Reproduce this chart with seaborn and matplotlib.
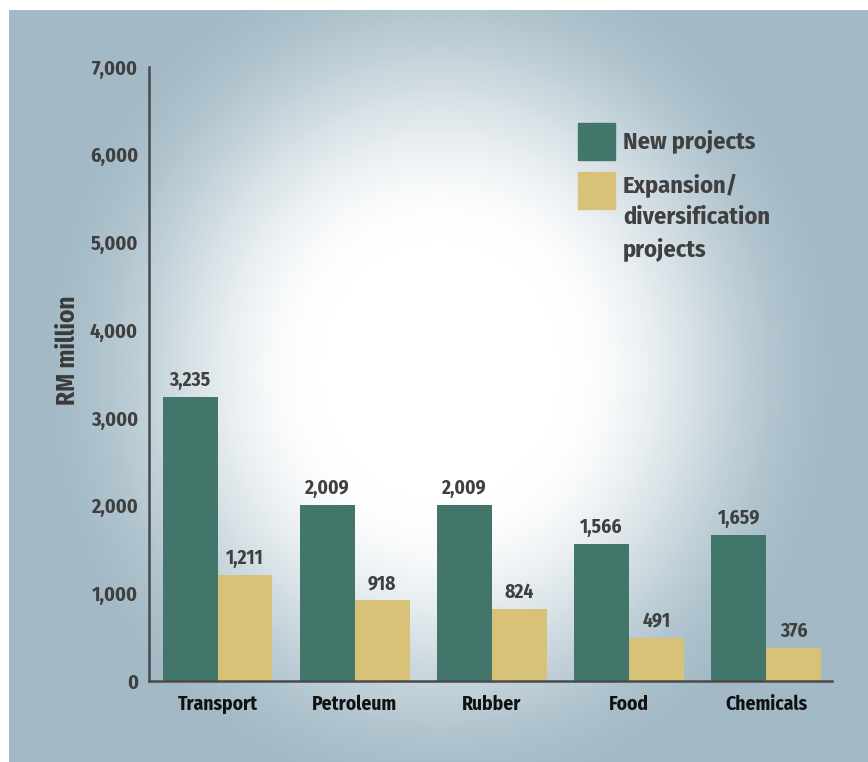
import numpy as np
import pandas as pd
import matplotlib.pyplot as plt
from matplotlib.patches import Rectangle
import seaborn as sns

sns.set_style('white')
plt.rcParams['font.family'] = ['Fira Sans Condensed', 'Lato', 'DejaVu Sans']
plt.rcParams['font.weight'] = 'bold'

# ---------------------------------------------------------
# Data
# ---------------------------------------------------------
SECTORS = ['Transport', 'Petroleum', 'Rubber', 'Food', 'Chemicals']
NEW_PROJECTS = [3235, 2009, 2009, 1566, 1659]
EXPANSION = [1211, 918, 824, 491, 376]
SERIES = ['New projects', 'Expansion/\ndiversification\nprojects']
Y_TICKS = [0, 1000, 2000, 3000, 4000, 5000, 6000, 7000]

GREEN = '#43766a'
YELLOW = '#d8c278'
EDGE = np.array([0xa3, 0xba, 0xc6]) / 255.0

df = pd.DataFrame({
    'sector': SECTORS * 2,
    'value': NEW_PROJECTS + EXPANSION,
    'type': [SERIES[0]] * len(SECTORS) + [SERIES[1]] * len(SECTORS),
})

W, H = 868, 762
fig = plt.figure(figsize=(W / 100, H / 100), dpi=100, facecolor='white')

# radial background panel
bg = fig.add_axes([9 / W, 0, (W - 9) / W, (H - 10) / H], zorder=0)
yy, xx = np.mgrid[10:H, 9:W]
t = np.sqrt(((xx - 440) / 480.0) ** 2 + ((yy - 370) / 520.0) ** 2)
s = np.clip((t - 0.25) / 0.6, 0, 1)
f = 1 - (3 * s ** 2 - 2 * s ** 3)
img = EDGE[None, None, :] + (1 - EDGE[None, None, :]) * f[:, :, None]
bg.imshow(img, aspect='auto', interpolation='bilinear')
bg.axis('off')

ax = fig.add_axes([149 / W, (H - 681) / H, (832 - 149) / W, (681 - 67) / H], zorder=1)
ax.set_facecolor('none')

sns.barplot(data=df, x='sector', y='value', hue='type', palette=[GREEN, YELLOW],
            width=0.8, saturation=1, linewidth=0, legend=False, ax=ax)

for cont in ax.containers:
    ax.bar_label(cont, fmt='{:,.0f}', padding=5, fontsize=14, color='#404040', fontweight='bold')

ax.set_ylim(0, 7000)
ax.set_xlim(-0.5, 4.48)
ax.set_yticks(Y_TICKS)
ax.set_yticklabels([f'{v:,}' for v in Y_TICKS], fontsize=14.5, color='#3f3f3f', fontweight='bold')
ax.tick_params(axis='both', length=0)
ax.tick_params(axis='y', pad=8)
ax.tick_params(axis='x', pad=10)
for lab in ax.get_xticklabels():
    lab.set_fontsize(14)
    lab.set_color('#111111')
    lab.set_fontweight('bold')

ax.set_xlabel('')
ax.set_ylabel('RM million', fontsize=18, color='#3a3a3a', fontweight='bold')
ax.yaxis.label.set(ha='center', va='center')
ax.yaxis.set_label_coords(-0.119, (681 - 350) / 614)

for side in ['top', 'right']:
    ax.spines[side].set_visible(False)
for side in ['left', 'bottom']:
    ax.spines[side].set_color('#4a4a4a')
    ax.spines[side].set_linewidth(1.8)
ax.grid(False)

# legend keys
for (y0, col) in [(123, GREEN), (172, YELLOW)]:
    fig.patches.append(Rectangle((578 / W, 1 - (y0 + 37) / H), 37 / W, 37 / H,
                                 transform=fig.transFigure, color=col, zorder=3))
fig.text(623 / W, 1 - 141 / H, SERIES[0], fontsize=17.5, color='#404040',
         fontweight='bold', va='center', ha='left', zorder=3)
fig.text(623 / W, 1 - 174 / H, SERIES[1], fontsize=17.5, color='#404040',
         fontweight='bold', va='top', ha='left', linespacing=1.43, zorder=3)

fig.savefig('out.png', dpi=100)
